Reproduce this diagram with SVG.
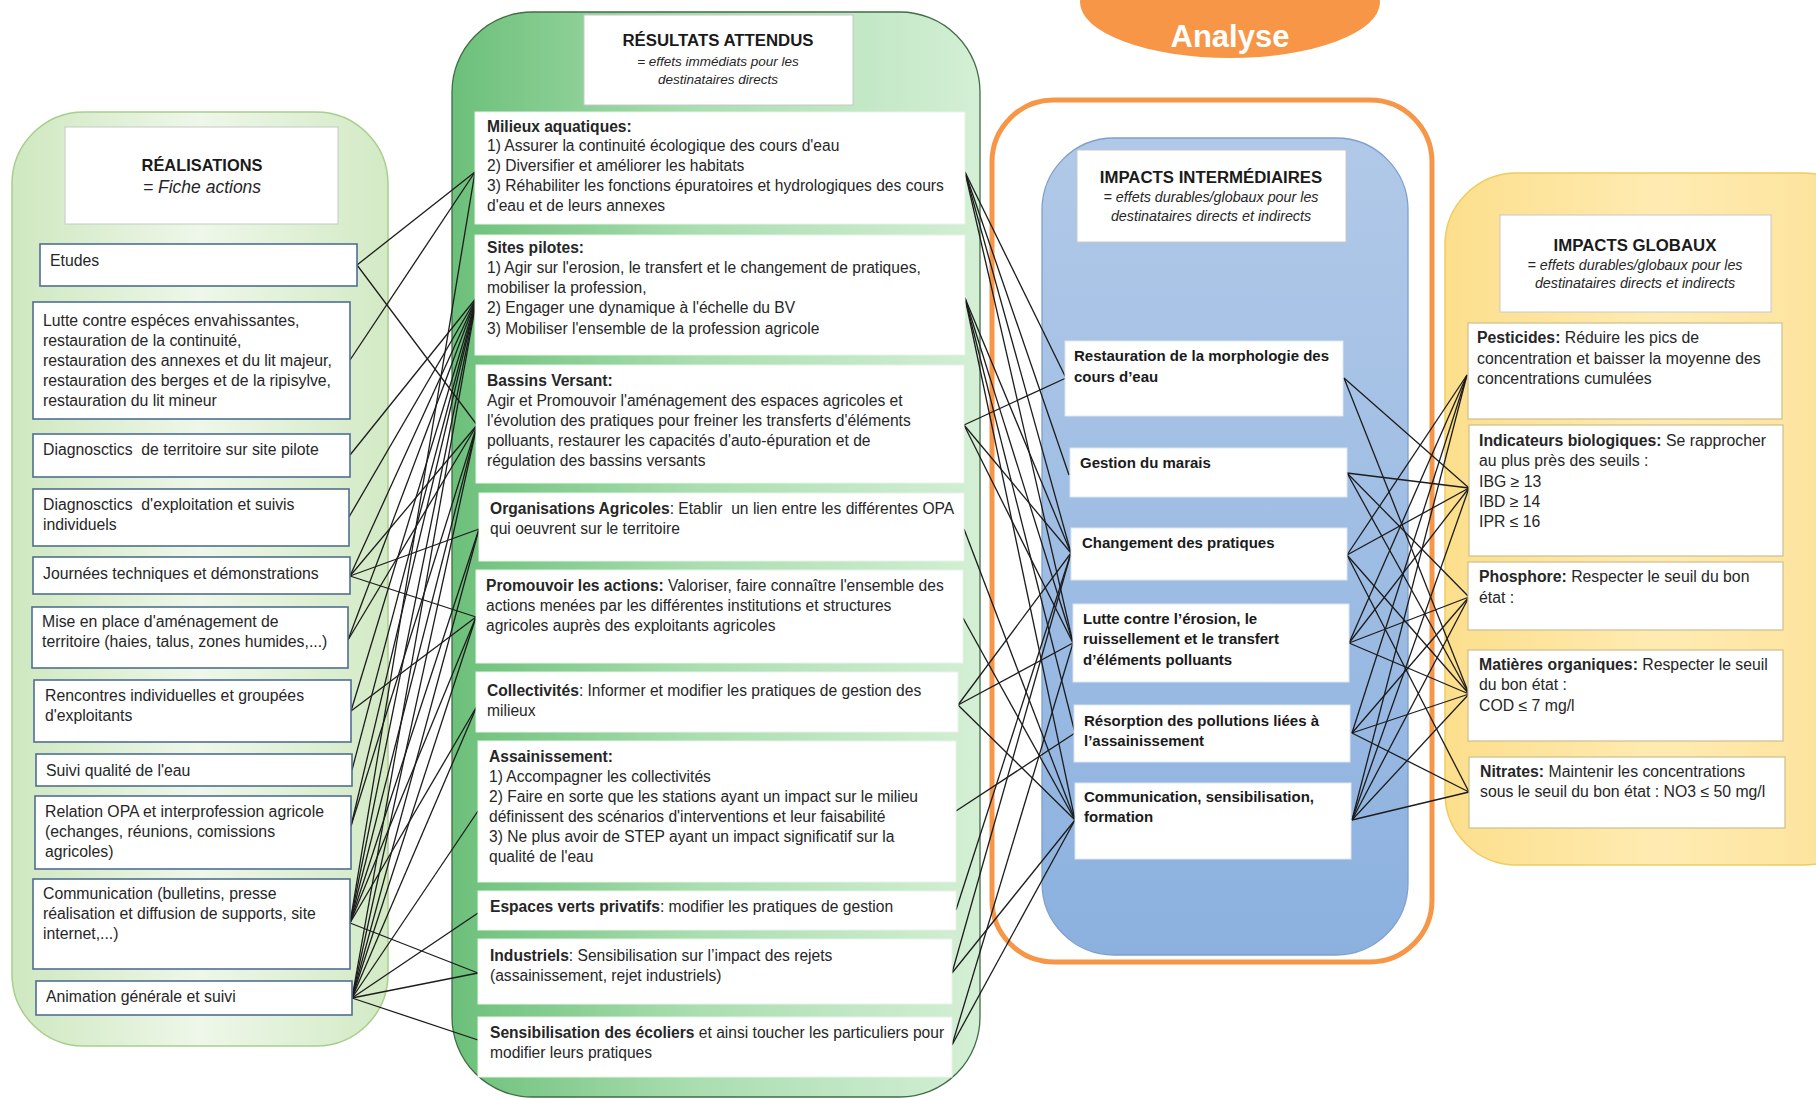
<svg xmlns="http://www.w3.org/2000/svg" width="1816" height="1099" viewBox="0 0 1816 1099">
<defs>
<linearGradient id="gLeft" x1="0" y1="0" x2="1" y2="0">
<stop offset="0" stop-color="#CFE8C0"/><stop offset="0.5" stop-color="#EEF7E9"/><stop offset="1" stop-color="#D3EAC5"/>
</linearGradient>
<linearGradient id="gMid" x1="0" y1="0" x2="1" y2="0">
<stop offset="0" stop-color="#6CC07A"/><stop offset="0.45" stop-color="#A9DDAF"/><stop offset="1" stop-color="#D4EFD5"/>
</linearGradient>
<linearGradient id="gBlue" x1="0" y1="0" x2="0" y2="1">
<stop offset="0" stop-color="#B1C9E8"/><stop offset="1" stop-color="#8CB1DF"/>
</linearGradient>
<linearGradient id="gYel" x1="0" y1="0" x2="1" y2="0">
<stop offset="0" stop-color="#FCDF8C"/><stop offset="0.5" stop-color="#FFEBB2"/><stop offset="1" stop-color="#FCE196"/>
</linearGradient>
</defs>
<style>
text{font-family:"Liberation Sans",Arial,sans-serif;fill:#262626;white-space:pre}
.l{font-size:15.8px}
.m{font-size:15.6px}
.g{font-size:15.8px}
.i{font-size:15px;font-weight:bold;fill:#1a1a1a}
.b{font-weight:bold}
.ht{font-size:16.8px;font-weight:bold;text-anchor:middle;fill:#1a1a1a}
.hs{font-size:14.3px;font-style:italic;text-anchor:middle}
.hsm{font-size:13.5px;font-style:italic;text-anchor:middle}
.hs2{font-size:17.5px;font-style:italic;text-anchor:middle}
.hdr{fill:#fff;stroke:#C8C8C8;stroke-width:1}
.lb{fill:#fff;stroke:#4F6F93;stroke-width:1.6}
.mb{fill:#fff;stroke:#E6F3E6;stroke-width:1}
.ib{fill:#fff;stroke:#DCE6F2;stroke-width:1}
.gb{fill:#fff;stroke:#CDBF8F;stroke-width:1.2}
#connectors line{stroke:#1c1c1c;stroke-width:1.3}
</style>

<!-- panels -->
<g id="panel-realisations"><rect x="12" y="112" width="376" height="934" rx="72" fill="url(#gLeft)" stroke="#A6CF8C" stroke-width="1.5"/></g>
<g id="panel-resultats"><rect x="452" y="12" width="528" height="1085" rx="80" fill="url(#gMid)" stroke="#3F6E43" stroke-width="1.3"/></g>
<g id="panel-focus">
<ellipse cx="1230" cy="2" rx="150" ry="56" fill="#F79646"/>
<text x="1230" y="47" style="font-size:31px;font-weight:bold;fill:#fff;text-anchor:middle">Analyse</text>
<rect x="992" y="100" width="440" height="862" rx="62" fill="none" stroke="#F79646" stroke-width="5"/>
</g>
<g id="panel-intermediaires"><rect x="1042" y="138" width="366" height="817" rx="72" fill="url(#gBlue)" stroke="#7F9FCB" stroke-width="1.3"/></g>
<g id="panel-globaux"><rect x="1445" y="173" width="430" height="692" rx="72" fill="url(#gYel)" stroke="#F0CB5E" stroke-width="1.5"/></g>

<!-- headers -->
<g id="hdr-realisations"><rect class="hdr" x="65" y="127" width="273" height="97"/>
<text class="ht" x="202" y="171" style="font-size:16.4px">RÉALISATIONS</text>
<text class="hs2" x="202" y="193">= Fiche actions</text></g>
<g id="hdr-resultats"><rect class="hdr" x="584" y="15" width="269" height="90"/>
<text class="ht" x="718" y="46">RÉSULTATS ATTENDUS</text>
<text class="hsm" x="718" y="66">= effets immédiats pour les</text>
<text class="hsm" x="718" y="84">destinataires directs</text></g>
<g id="hdr-intermediaires"><rect class="hdr" x="1077" y="150" width="269" height="92"/>
<text class="ht" x="1211" y="183">IMPACTS INTERMÉDIAIRES</text>
<text class="hs" x="1211" y="202">= effets durables/globaux pour les</text>
<text class="hs" x="1211" y="221">destinataires directs et indirects</text></g>
<g id="hdr-globaux"><rect class="hdr" x="1500" y="215" width="271" height="97"/>
<text class="ht" x="1635" y="251">IMPACTS GLOBAUX</text>
<text class="hs" x="1635" y="270">= effets durables/globaux pour les</text>
<text class="hs" x="1635" y="288">destinataires directs et indirects</text></g>

<!-- connectors -->
<g id="connectors">
<line x1="357" y1="265" x2="475" y2="172"/>
<line x1="357" y1="265" x2="477" y2="425"/>
<line x1="350" y1="360" x2="475" y2="172"/>
<line x1="350" y1="455" x2="477" y2="297"/>
<line x1="349" y1="517" x2="477" y2="297"/>
<line x1="350" y1="576" x2="477" y2="297"/>
<line x1="350" y1="576" x2="477" y2="425"/>
<line x1="350" y1="576" x2="479" y2="529"/>
<line x1="350" y1="576" x2="476" y2="617"/>
<line x1="348" y1="640" x2="477" y2="297"/>
<line x1="348" y1="640" x2="477" y2="425"/>
<line x1="351" y1="711" x2="477" y2="297"/>
<line x1="351" y1="711" x2="476" y2="617"/>
<line x1="352" y1="770" x2="477" y2="297"/>
<line x1="351" y1="826" x2="477" y2="297"/>
<line x1="351" y1="826" x2="477" y2="425"/>
<line x1="350" y1="923" x2="475" y2="172"/>
<line x1="350" y1="923" x2="477" y2="297"/>
<line x1="350" y1="923" x2="477" y2="425"/>
<line x1="350" y1="923" x2="479" y2="529"/>
<line x1="350" y1="923" x2="476" y2="617"/>
<line x1="350" y1="923" x2="477" y2="706"/>
<line x1="350" y1="923" x2="478" y2="973"/>
<line x1="352" y1="998" x2="477" y2="297"/>
<line x1="352" y1="998" x2="477" y2="425"/>
<line x1="352" y1="998" x2="479" y2="529"/>
<line x1="352" y1="998" x2="476" y2="617"/>
<line x1="352" y1="998" x2="477" y2="706"/>
<line x1="352" y1="998" x2="478" y2="811"/>
<line x1="352" y1="998" x2="478" y2="913"/>
<line x1="352" y1="998" x2="478" y2="973"/>
<line x1="352" y1="998" x2="478" y2="1040"/>

<line x1="965" y1="172" x2="1066" y2="378"/>
<line x1="965" y1="172" x2="1069" y2="475"/>
<line x1="965" y1="172" x2="1071" y2="553"/>
<line x1="965" y1="172" x2="1073" y2="643"/>
<line x1="965" y1="298" x2="1071" y2="553"/>
<line x1="965" y1="298" x2="1073" y2="643"/>
<line x1="965" y1="298" x2="1075" y2="733"/>
<line x1="965" y1="298" x2="1075" y2="820"/>
<line x1="964" y1="425" x2="1066" y2="378"/>
<line x1="964" y1="425" x2="1071" y2="553"/>
<line x1="964" y1="425" x2="1073" y2="643"/>
<line x1="964" y1="529" x2="1075" y2="820"/>
<line x1="963" y1="618" x2="1075" y2="820"/>
<line x1="958" y1="705" x2="1071" y2="553"/>
<line x1="958" y1="705" x2="1073" y2="643"/>
<line x1="958" y1="705" x2="1075" y2="820"/>
<line x1="956" y1="811" x2="1075" y2="733"/>
<line x1="956" y1="910" x2="1071" y2="553"/>
<line x1="952" y1="973" x2="1075" y2="820"/>
<line x1="952" y1="973" x2="1071" y2="553"/>
<line x1="952" y1="1045" x2="1075" y2="820"/>
<line x1="952" y1="1045" x2="1073" y2="643"/>

<line x1="1344" y1="378" x2="1469" y2="488"/>
<line x1="1344" y1="378" x2="1469" y2="694"/>
<line x1="1347" y1="473" x2="1469" y2="488"/>
<line x1="1347" y1="473" x2="1469" y2="597"/>
<line x1="1347" y1="473" x2="1469" y2="694"/>
<line x1="1347" y1="555" x2="1467" y2="375"/>
<line x1="1347" y1="555" x2="1469" y2="488"/>
<line x1="1347" y1="555" x2="1469" y2="694"/>
<line x1="1347" y1="555" x2="1469" y2="792"/>
<line x1="1349" y1="643" x2="1467" y2="375"/>
<line x1="1349" y1="643" x2="1469" y2="488"/>
<line x1="1349" y1="643" x2="1469" y2="597"/>
<line x1="1349" y1="643" x2="1469" y2="694"/>
<line x1="1352" y1="733" x2="1467" y2="375"/>
<line x1="1352" y1="733" x2="1469" y2="597"/>
<line x1="1352" y1="733" x2="1469" y2="694"/>
<line x1="1352" y1="733" x2="1469" y2="792"/>
<line x1="1352" y1="820" x2="1467" y2="375"/>
<line x1="1352" y1="820" x2="1469" y2="488"/>
<line x1="1352" y1="820" x2="1469" y2="597"/>
<line x1="1352" y1="820" x2="1469" y2="694"/>
<line x1="1352" y1="820" x2="1469" y2="792"/>
</g>

<!-- left column -->
<g id="r-etudes"><rect class="lb" x="40" y="244" width="317" height="42"/><text class="l" x="50" y="266">Etudes</text></g>
<g id="r-lutte"><rect class="lb" x="33" y="302" width="317" height="117"/>
<text class="l" x="43" y="326">Lutte contre espéces envahissantes,</text>
<text class="l" x="43" y="346">restauration de la continuité,</text>
<text class="l" x="43" y="366">restauration des annexes et du lit majeur,</text>
<text class="l" x="43" y="386">restauration des berges et de la ripisylve,</text>
<text class="l" x="43" y="406">restauration du lit mineur</text></g>
<g id="r-diag-territoire"><rect class="lb" x="33" y="434" width="317" height="43"/><text class="l" x="43" y="455">Diagnosctics  de territoire sur site pilote</text></g>
<g id="r-diag-exploitation"><rect class="lb" x="33" y="489" width="316" height="57"/>
<text class="l" x="43" y="510">Diagnosctics  d'exploitation et suivis</text>
<text class="l" x="43" y="530">individuels</text></g>
<g id="r-journees"><rect class="lb" x="33" y="557" width="317" height="37"/><text class="l" x="43" y="579">Journées techniques et démonstrations</text></g>
<g id="r-amenagement"><rect class="lb" x="32" y="607" width="316" height="61"/>
<text class="l" x="42" y="627">Mise en place d'aménagement de</text>
<text class="l" x="42" y="647">territoire (haies, talus, zones humides,...)</text></g>
<g id="r-rencontres"><rect class="lb" x="34" y="680" width="317" height="62"/>
<text class="l" x="45" y="701">Rencontres individuelles et groupées</text>
<text class="l" x="45" y="721">d'exploitants</text></g>
<g id="r-suivi"><rect class="lb" x="36" y="754" width="316" height="32"/><text class="l" x="46" y="776">Suivi qualité de l'eau</text></g>
<g id="r-relation"><rect class="lb" x="35" y="796" width="316" height="73"/>
<text class="l" x="45" y="817">Relation OPA et interprofession agricole</text>
<text class="l" x="45" y="837">(echanges, réunions, comissions</text>
<text class="l" x="45" y="857">agricoles)</text></g>
<g id="r-communication"><rect class="lb" x="33" y="879" width="317" height="90"/>
<text class="l" x="43" y="899">Communication (bulletins, presse</text>
<text class="l" x="43" y="919">réalisation et diffusion de supports, site</text>
<text class="l" x="43" y="939">internet,...)</text></g>
<g id="r-animation"><rect class="lb" x="36" y="981" width="316" height="34"/><text class="l" x="46" y="1002">Animation générale et suivi</text></g>

<!-- middle column -->
<g id="m-milieux"><rect class="mb" x="475" y="112" width="490" height="112"/>
<text class="m" x="487" y="132"><tspan class="b">Milieux aquatiques:</tspan></text>
<text class="m" x="487" y="151">1) Assurer la continuité écologique des cours d'eau</text>
<text class="m" x="487" y="171">2) Diversifier et améliorer les habitats</text>
<text class="m" x="487" y="191">3) Réhabiliter les fonctions épuratoires et hydrologiques des cours</text>
<text class="m" x="487" y="211">d'eau et de leurs annexes</text></g>
<g id="m-sites"><rect class="mb" x="475" y="235" width="490" height="120"/>
<text class="m" x="487" y="253"><tspan class="b">Sites pilotes:</tspan></text>
<text class="m" x="487" y="273">1) Agir sur l'erosion, le transfert et le changement de pratiques,</text>
<text class="m" x="487" y="293">mobiliser la profession,</text>
<text class="m" x="487" y="313">2) Engager une dynamique à l'échelle du BV</text>
<text class="m" x="487" y="334">3) Mobiliser l'ensemble de la profession agricole</text></g>
<g id="m-bassins"><rect class="mb" x="476" y="365" width="488" height="118"/>
<text class="m" x="487" y="386"><tspan class="b">Bassins Versant:</tspan></text>
<text class="m" x="487" y="406">Agir et Promouvoir l'aménagement des espaces agricoles et</text>
<text class="m" x="487" y="426">l'évolution des pratiques pour freiner les transferts d'éléments</text>
<text class="m" x="487" y="446">polluants, restaurer les capacités d'auto-épuration et de</text>
<text class="m" x="487" y="466">régulation des bassins versants</text></g>
<g id="m-organisations"><rect class="mb" x="479" y="493" width="485" height="68"/>
<text class="m" x="490" y="514"><tspan class="b">Organisations Agricoles</tspan>: Etablir  un lien entre les différentes OPA</text>
<text class="m" x="490" y="534">qui oeuvrent sur le territoire</text></g>
<g id="m-promouvoir"><rect class="mb" x="476" y="570" width="487" height="93"/>
<text class="m" x="486" y="591"><tspan class="b">Promouvoir les actions:</tspan> Valoriser, faire connaître l'ensemble des</text>
<text class="m" x="486" y="611">actions menées par les différentes institutions et structures</text>
<text class="m" x="486" y="631">agricoles auprès des exploitants agricoles</text></g>
<g id="m-collectivites"><rect class="mb" x="476" y="672" width="482" height="60"/>
<text class="m" x="487" y="696"><tspan class="b">Collectivités</tspan>: Informer et modifier les pratiques de gestion des</text>
<text class="m" x="487" y="716">milieux</text></g>
<g id="m-assainissement"><rect class="mb" x="478" y="741" width="478" height="141"/>
<text class="m" x="489" y="762"><tspan class="b">Assainissement:</tspan></text>
<text class="m" x="489" y="782">1) Accompagner les collectivités</text>
<text class="m" x="489" y="802">2) Faire en sorte que les stations ayant un impact sur le milieu</text>
<text class="m" x="489" y="822">définissent des scénarios d'interventions et leur faisabilité</text>
<text class="m" x="489" y="842">3) Ne plus avoir de STEP ayant un impact significatif sur la</text>
<text class="m" x="489" y="862">qualité de l'eau</text></g>
<g id="m-espaces"><rect class="mb" x="478" y="891" width="478" height="39"/>
<text class="m" x="490" y="912"><tspan class="b">Espaces verts privatifs</tspan>: modifier les pratiques de gestion</text></g>
<g id="m-industriels"><rect class="mb" x="478" y="939" width="474" height="65"/>
<text class="m" x="490" y="961"><tspan class="b">Industriels</tspan>: Sensibilisation sur l’impact des rejets</text>
<text class="m" x="490" y="981">(assainissement, rejet industriels)</text></g>
<g id="m-ecoliers"><rect class="mb" x="478" y="1017" width="474" height="60"/>
<text class="m" x="490" y="1038"><tspan class="b">Sensibilisation des écoliers</tspan> et ainsi toucher les particuliers pour</text>
<text class="m" x="490" y="1058">modifier leurs pratiques</text></g>

<!-- intermediate column -->
<g id="i-restauration"><rect class="ib" x="1065" y="341" width="278" height="75"/>
<text class="i" x="1074" y="361">Restauration de la morphologie des</text>
<text class="i" x="1074" y="382">cours d’eau</text></g>
<g id="i-marais"><rect class="ib" x="1070" y="448" width="277" height="49"/>
<text class="i" x="1080" y="468">Gestion du marais</text></g>
<g id="i-pratiques"><rect class="ib" x="1071" y="528" width="276" height="52"/>
<text class="i" x="1082" y="548">Changement des pratiques</text></g>
<g id="i-erosion"><rect class="ib" x="1073" y="604" width="276" height="78"/>
<text class="i" x="1083" y="624">Lutte contre l’érosion, le</text>
<text class="i" x="1083" y="644">ruissellement et le transfert</text>
<text class="i" x="1083" y="665">d’éléments polluants</text></g>
<g id="i-resorption"><rect class="ib" x="1074" y="705" width="276" height="57"/>
<text class="i" x="1084" y="726">Résorption des pollutions liées à</text>
<text class="i" x="1084" y="746">l’assainissement</text></g>
<g id="i-communication"><rect class="ib" x="1075" y="783" width="276" height="76"/>
<text class="i" x="1084" y="802">Communication, sensibilisation,</text>
<text class="i" x="1084" y="822">formation</text></g>

<!-- global column -->
<g id="g-pesticides"><rect class="gb" x="1468" y="323" width="314" height="96"/>
<text class="g" x="1477" y="343"><tspan class="b">Pesticides:</tspan> Réduire les pics de</text>
<text class="g" x="1477" y="364">concentration et baisser la moyenne des</text>
<text class="g" x="1477" y="384">concentrations cumulées</text></g>
<g id="g-indicateurs"><rect class="gb" x="1469" y="425" width="314" height="131"/>
<text class="g" x="1479" y="446"><tspan class="b">Indicateurs biologiques:</tspan> Se rapprocher</text>
<text class="g" x="1479" y="466">au plus près des seuils :</text>
<text class="g" x="1479" y="487">IBG ≥ 13</text>
<text class="g" x="1479" y="507">IBD ≥ 14</text>
<text class="g" x="1479" y="527">IPR ≤ 16</text></g>
<g id="g-phosphore"><rect class="gb" x="1468" y="562" width="315" height="68"/>
<text class="g" x="1479" y="582"><tspan class="b">Phosphore:</tspan> Respecter le seuil du bon</text>
<text class="g" x="1479" y="603">état :</text></g>
<g id="g-matieres"><rect class="gb" x="1468" y="650" width="315" height="91"/>
<text class="g" x="1479" y="670"><tspan class="b">Matières organiques:</tspan> Respecter le seuil</text>
<text class="g" x="1479" y="690">du bon état :</text>
<text class="g" x="1479" y="711">COD ≤ 7 mg/l</text></g>
<g id="g-nitrates"><rect class="gb" x="1469" y="757" width="316" height="71"/>
<text class="g" x="1480" y="777"><tspan class="b">Nitrates:</tspan> Maintenir les concentrations</text>
<text class="g" x="1480" y="797">sous le seuil du bon état : NO3 ≤ 50 mg/l</text></g>
</svg>
